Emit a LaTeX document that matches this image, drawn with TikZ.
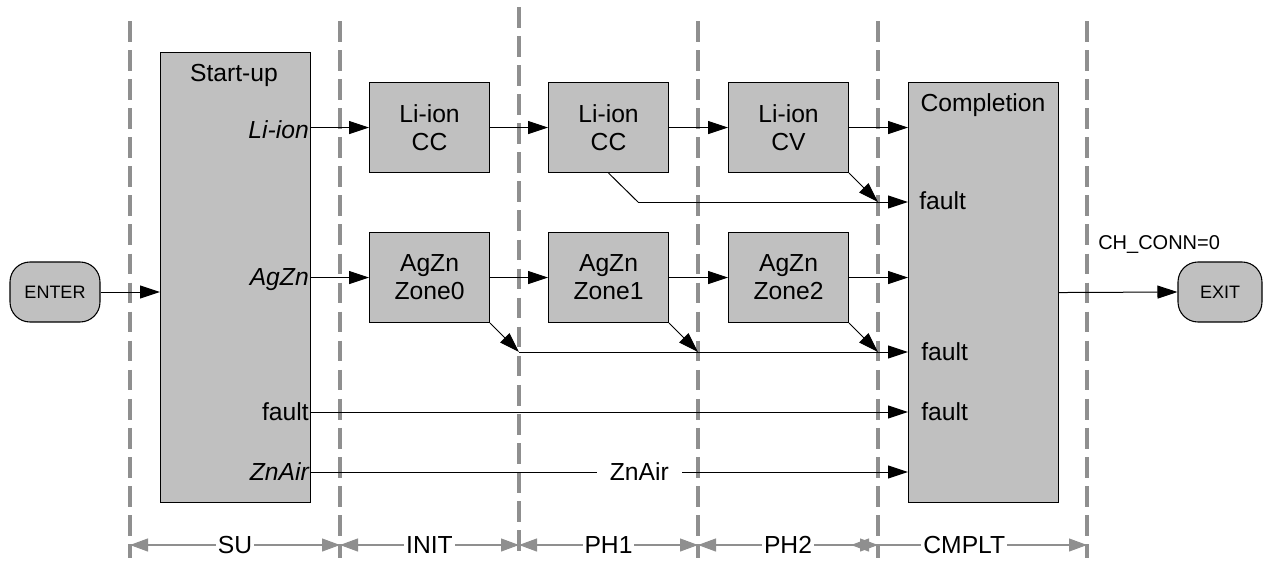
\documentclass[tikz,border=0pt]{standalone}
\usepackage{fontspec}
\setmainfont{Liberation Sans}
\usetikzlibrary{arrows.meta}
\definecolor{boxgray}{HTML}{C0C0C0}
\definecolor{dashgray}{HTML}{8F8F8F}
\begin{document}
\begin{tikzpicture}[x=0.75pt,y=-0.75pt,
  box/.style={draw=black, fill=boxgray, line width=0.8pt, inner sep=0pt, anchor=north west, align=center,
    font=\fontsize{18.5pt}{21pt}\selectfont},
  smallbox/.style={box, minimum width=90pt, minimum height=67.5pt},
  term/.style={draw=black, fill=boxgray, line width=0.8pt, rounded corners=15pt, minimum height=45pt,
    inner sep=0pt, font=\fontsize{13.5pt}{16pt}\selectfont},
  lbl/.style={inner sep=0pt, font=\fontsize{18.5pt}{21pt}\selectfont},
  conn/.style={line width=0.75pt, -{Triangle[length=15pt,width=9.75pt]}},
  plain/.style={line width=0.75pt},
  phase/.style={dashgray, line width=2.4pt, dash pattern=on 15.5pt off 6.3pt},
  dim/.style={dashgray, line width=0.8pt, {Triangle[length=13.5pt,width=9.75pt]}-{Triangle[length=13.5pt,width=9.75pt]}},
  diml/.style={fill=white, inner sep=1.5pt, text=black, font=\fontsize{18.5pt}{21pt}\selectfont}
]
\useasboundingbox (0,0) rectangle (1265,561);

% phase separators
\draw[phase] (130,21) -- (130,558);
\draw[phase] (340,21) -- (340,558);
\draw[phase] (519,7) -- (519,558);
\draw[phase] (698,21) -- (698,558);
\draw[phase] (878,21) -- (878,558);
\draw[phase] (1087,21) -- (1087,558);

% big boxes
\node[box, minimum width=112.5pt, minimum height=337.5pt] (su) at (160,52) {};
\node[box, minimum width=112.5pt, minimum height=315pt] (cmp) at (908,82) {};
\node[lbl] (sut) at (234,75) {Start-up};
\node[lbl, anchor=east] (sli) at (309,130) {\itshape Li-ion};
\node[lbl, anchor=east] (sag) at (309,280) {\itshape AgZn};
\node[lbl, anchor=east] (sfa) at (309,412) {fault};
\node[lbl, anchor=east] (szn) at (309,472) {\itshape ZnAir};
\node[lbl] (cmt) at (983,105) {Completion};
\node[lbl, anchor=west] (cf1) at (919,201) {fault};
\node[lbl, anchor=west] (cf2) at (921,352) {fault};
\node[lbl, anchor=west] (cf3) at (921,412) {fault};

% small boxes
\node[smallbox] (l1) at (369,82) {Li-ion\\CC};
\node[smallbox] (l2) at (548,82) {Li-ion\\CC};
\node[smallbox] (l3) at (728,82) {Li-ion\\CV};
\node[smallbox] (a0) at (369,232) {AgZn\\Zone0};
\node[smallbox] (a1) at (548,232) {AgZn\\Zone1};
\node[smallbox] (a2) at (728,232) {AgZn\\Zone2};

% terminals
\node[term, minimum width=67.5pt] (en) at (55,292) {ENTER};
\node[term, minimum width=63pt] (ex) at (1220,292) {EXIT};
\node[anchor=west, inner sep=0pt, font=\fontsize{15pt}{18pt}\selectfont] (cc) at (1098,245) {CH\_CONN=0};

% coordinates
\coordinate (f1) at (638,202);
\coordinate (j1) at (878,202);
\coordinate (j0) at (519,352);
\coordinate (j2) at (698,352);
\coordinate (j3) at (878,352);

% connectors
\draw[conn] (en.east) -- (en.east -| su.west);
\draw[conn] (su.east |- l1.west) -- (l1.west);
\draw[conn] (l1.east) -- (l2.west);
\draw[conn] (l2.east) -- (l3.west);
\draw[conn] (l3.east) -- (l3.east -| cmp.west);
\draw[conn] (su.east |- a0.west) -- (a0.west);
\draw[conn] (a0.east) -- (a1.west);
\draw[conn] (a1.east) -- (a2.west);
\draw[conn] (a2.east) -- (a2.east -| cmp.west);

\draw[plain] (l2.south) -- (f1);
\draw[conn] (f1) -- (f1 -| cmp.west);
\draw[conn] (l3.south east) -- (j1);

\draw[conn] (a0.south east) -- (j0);
\draw[conn] (a1.south east) -- (j2);
\draw[conn] (a2.south east) -- (j3);
\draw[conn] (j0) -- (j0 -| cmp.west);

\draw[conn] (su.east |- sfa.east) -- (sfa.east -| cmp.west);
\draw[conn] (su.east |- szn.east) -- node[pos=0.55, lbl, fill=white, inner xsep=10pt, inner ysep=4pt] {ZnAir} (szn.east -| cmp.west);

\draw[conn] (cmp.east) -- (ex.west);

% phase dimensions
\draw[dim] (130,545) -- node[diml] {SU} (340,545);
\draw[dim] (340,545) -- node[diml] {INIT} (519,545);
\draw[dim] (519,545) -- node[diml] {PH1} (698,545);
\draw[dim] (698,545) -- node[diml] {PH2} (878,545);
\draw[dim] (851,545) -- node[diml, pos=0.48] {CMPLT} (1087,545);
\end{tikzpicture}
\end{document}
